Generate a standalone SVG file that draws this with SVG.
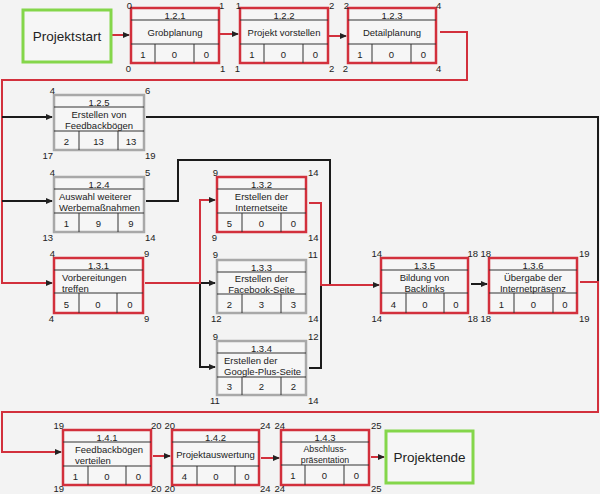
<svg xmlns="http://www.w3.org/2000/svg" width="600" height="494" viewBox="0 0 600 494">
<defs>
<marker id="ah" markerUnits="userSpaceOnUse" markerWidth="7" markerHeight="6" refX="6" refY="3" orient="auto">
<path d="M0,0 L7,3 L0,6 z" fill="#222"/>
</marker>
<style>
text{font-family:"Liberation Sans",Arial,sans-serif;fill:#222;}
.t{font-size:9.5px;}
.c{text-anchor:middle;}
.e{text-anchor:end;}
.n{font-size:9.5px;}
.big{font-size:13.5px;text-anchor:middle;}
.box{fill:#f6f6f6;stroke-width:2.5;}
.red{stroke:#d2303c;}
.grey{stroke:#a8a8a8;}
.in{stroke:#333;stroke-width:1;fill:none;}
.green{fill:#f6f6f6;stroke:#84d64a;stroke-width:3;}
.cr{fill:none;stroke:#d2303c;stroke-width:2;}
.cb{fill:none;stroke:#1a1a1a;stroke-width:2;}
</style>
</defs>
<rect x="0" y="0" width="600" height="494" fill="#f3f3f3"/>

<g id="connectors">
<path class="cr" d="M111,35 H129" marker-end="url(#ah)"/>
<path class="cr" d="M220,34 H238" marker-end="url(#ah)"/>
<path class="cr" d="M329,36 H346" marker-end="url(#ah)"/>
<path class="cr" d="M440,32 H467 V80 H2 V283 H52" marker-end="url(#ah)"/>
<path class="cb" d="M2,117 H52" marker-end="url(#ah)"/>
<path class="cb" d="M2,201 H52" marker-end="url(#ah)"/>
<path class="cb" d="M146,117 H598 V282"/>
<path class="cb" d="M146,201 H178 V160 H330 V285"/>
<path class="cb" d="M200,283 H215" marker-end="url(#ah)"/>
<path class="cb" d="M200,283 V367 H215" marker-end="url(#ah)"/>
<path class="cb" d="M309,368 H321 V285"/>
<path class="cr" d="M145,283 H200"/>
<path class="cr" d="M200,284 V200 H215" marker-end="url(#ah)"/>
<path class="cr" d="M309,203 H321 V285 H379" marker-end="url(#ah)"/>
<path class="cb" d="M471,284 H487" marker-end="url(#ah)"/>
<path class="cr" d="M580,282 H598 V412 H2 V452 H61" marker-end="url(#ah)"/>
<path class="cr" d="M153,456 H170" marker-end="url(#ah)"/>
<path class="cr" d="M261,458 H279" marker-end="url(#ah)"/>
<path class="cr" d="M371,457 H384" marker-end="url(#ah)"/>
</g>

<g id="start">
<rect class="green" x="23" y="10" width="88" height="52"/>
<text class="big" x="67" y="41">Projektstart</text>
</g>

<g id="n121">
<rect class="box red" x="131" y="8" width="88" height="55"/>
<path class="in" d="M131,20 H219 M131,44 H219 M155,44 V63 M194,44 V63"/>
<text class="t c" x="175" y="18.5">1.2.1</text>
<text class="t c" x="175" y="36">Grobplanung</text>
<text class="n c" x="143" y="57.5">1</text><text class="n c" x="174.5" y="57.5">0</text><text class="n c" x="206.5" y="57.5">0</text>
<text class="n e" x="132" y="8.5">0</text><text class="n" x="219" y="8.5">1</text>
<text class="n e" x="131" y="72">0</text><text class="n" x="220" y="72">1</text>
</g>

<g id="n122">
<rect class="box red" x="240" y="8" width="88" height="55"/>
<path class="in" d="M240,20 H328 M240,44 H328 M264,44 V63 M303,44 V63"/>
<text class="t c" x="284" y="18.5">1.2.2</text>
<text class="t c" x="284" y="36">Projekt vorstellen</text>
<text class="n c" x="252" y="57.5">1</text><text class="n c" x="283.5" y="57.5">0</text><text class="n c" x="315.5" y="57.5">0</text>
<text class="n e" x="241" y="8.5">1</text><text class="n" x="329" y="8.5">2</text>
<text class="n e" x="240" y="72">1</text><text class="n" x="329" y="72">2</text>
</g>

<g id="n123">
<rect class="box red" x="348" y="8" width="88" height="55"/>
<path class="in" d="M348,20 H436 M348,44 H436 M372,44 V63 M411,44 V63"/>
<text class="t c" x="392" y="18.5">1.2.3</text>
<text class="t c" x="392" y="36">Detailplanung</text>
<text class="n c" x="360" y="57.5">1</text><text class="n c" x="391.5" y="57.5">0</text><text class="n c" x="423.5" y="57.5">0</text>
<text class="n e" x="349" y="8.5">2</text><text class="n" x="436" y="8.5">4</text>
<text class="n e" x="348" y="72">2</text><text class="n" x="436" y="72">4</text>
</g>

<g id="n125">
<rect class="box grey" x="54" y="95" width="90" height="55"/>
<path class="in" d="M54,107 H144 M54,131 H144 M79,131 V150 M118,131 V150"/>
<text class="t c" x="99" y="105.5">1.2.5</text>
<text class="t c" x="99" y="118">Erstellen von</text>
<text class="t c" x="99" y="129">Feedbackbögen</text>
<text class="n c" x="66.5" y="144.5">2</text><text class="n c" x="98.5" y="144.5">13</text><text class="n c" x="131" y="144.5">13</text>
<text class="n e" x="55" y="94">4</text><text class="n" x="145" y="94">6</text>
<text class="n e" x="53" y="159">17</text><text class="n" x="145" y="159">19</text>
</g>

<g id="n124">
<rect class="box grey" x="54" y="177" width="90" height="55"/>
<path class="in" d="M54,189 H144 M54,213 H144 M79,213 V232 M118,213 V232"/>
<text class="t c" x="99" y="187.5">1.2.4</text>
<text class="t" x="59" y="200">Auswahl weiterer</text>
<text class="t" x="59" y="211">Werbemaßnahmen</text>
<text class="n c" x="66.5" y="226.5">1</text><text class="n c" x="98.5" y="226.5">9</text><text class="n c" x="131" y="226.5">9</text>
<text class="n e" x="55" y="176">4</text><text class="n" x="145" y="176">5</text>
<text class="n e" x="53" y="241">13</text><text class="n" x="145" y="241">14</text>
</g>

<g id="n131">
<rect class="box red" x="54" y="258" width="89" height="55"/>
<path class="in" d="M54,270 H143 M54,293 H143 M79,293 V313 M117,293 V313"/>
<text class="t c" x="98.5" y="268.5">1.3.1</text>
<text class="t" x="62" y="281">Vorbereitungen</text>
<text class="t" x="62" y="292">treffen</text>
<text class="n c" x="66.5" y="307.5">5</text><text class="n c" x="98" y="307.5">0</text><text class="n c" x="130" y="307.5">0</text>
<text class="n e" x="55" y="257">4</text><text class="n" x="144" y="257">9</text>
<text class="n e" x="54" y="322">4</text><text class="n" x="144" y="322">9</text>
</g>

<g id="n132">
<rect class="box red" x="217" y="177" width="89" height="55"/>
<path class="in" d="M217,189 H306 M217,213 H306 M242,213 V232 M281,213 V232"/>
<text class="t c" x="261.5" y="187.5">1.3.2</text>
<text class="t c" x="261.5" y="200">Erstellen der</text>
<text class="t c" x="261.5" y="211">Internetseite</text>
<text class="n c" x="229.5" y="226.5">5</text><text class="n c" x="261.5" y="226.5">0</text><text class="n c" x="293.5" y="226.5">0</text>
<text class="n e" x="218" y="176">9</text><text class="n" x="308" y="176">14</text>
<text class="n e" x="217" y="241">9</text><text class="n" x="308" y="241">14</text>
</g>

<g id="n133">
<rect class="box grey" x="217" y="260" width="89" height="53"/>
<path class="in" d="M217,272 H306 M217,294 H306 M242,294 V313 M281,294 V313"/>
<text class="t c" x="261.5" y="270.5">1.3.3</text>
<text class="t c" x="261.5" y="282">Erstellen der</text>
<text class="t c" x="261.5" y="292.5">Facebook-Seite</text>
<text class="n c" x="229.5" y="307.5">2</text><text class="n c" x="261.5" y="307.5">3</text><text class="n c" x="293.5" y="307.5">3</text>
<text class="n e" x="218" y="258">9</text><text class="n" x="308" y="258">11</text>
<text class="n" x="211" y="322">12</text><text class="n" x="308" y="322">14</text>
</g>

<g id="n134">
<rect class="box grey" x="217" y="341" width="89" height="54"/>
<path class="in" d="M217,353 H306 M217,377 H306 M242,377 V395 M281,377 V395"/>
<text class="t c" x="261.5" y="351.5">1.3.4</text>
<text class="t" x="224" y="364">Erstellen der</text>
<text class="t" x="224" y="375">Google-Plus-Seite</text>
<text class="n c" x="229.5" y="389.5">3</text><text class="n c" x="261.5" y="389.5">2</text><text class="n c" x="293.5" y="389.5">2</text>
<text class="n e" x="218" y="340">9</text><text class="n" x="308" y="340">12</text>
<text class="n" x="210" y="404">11</text><text class="n" x="308" y="404">14</text>
</g>

<g id="n135">
<rect class="box red" x="381" y="258" width="87" height="55"/>
<path class="in" d="M381,270 H468 M381,293 H468 M406,293 V313 M444,293 V313"/>
<text class="t c" x="424.5" y="268.5">1.3.5</text>
<text class="t c" x="424.5" y="281">Bildung von</text>
<text class="t c" x="424.5" y="292">Backlinks</text>
<text class="n c" x="393.5" y="307.5">4</text><text class="n c" x="425" y="307.5">0</text><text class="n c" x="456" y="307.5">0</text>
<text class="n e" x="382" y="257">14</text><text class="n" x="467.5" y="257">18</text>
<text class="n e" x="382" y="322">14</text><text class="n" x="467.5" y="322">18</text>
</g>

<g id="n136">
<rect class="box red" x="489" y="258" width="88" height="55"/>
<path class="in" d="M489,270 H577 M489,293 H577 M514,293 V313 M553,293 V313"/>
<text class="t c" x="533" y="268.5">1.3.6</text>
<text class="t c" x="533" y="281">Übergabe der</text>
<text class="t c" x="533" y="292">Internetpräsenz</text>
<text class="n c" x="501.5" y="307.5">1</text><text class="n c" x="533.5" y="307.5">0</text><text class="n c" x="565" y="307.5">0</text>
<text class="n e" x="491" y="257">18</text><text class="n" x="579" y="257">19</text>
<text class="n e" x="491" y="322">18</text><text class="n" x="579" y="322">19</text>
</g>

<g id="n141">
<rect class="box red" x="63" y="430" width="88" height="55"/>
<path class="in" d="M63,442 H151 M63,466 H151 M88,466 V485 M126,466 V485"/>
<text class="t c" x="107" y="440.5">1.4.1</text>
<text class="t" x="75" y="453">Feedbackbögen</text>
<text class="t" x="75" y="464">verteilen</text>
<text class="n c" x="75.5" y="479.5">1</text><text class="n c" x="107" y="479.5">0</text><text class="n c" x="138.5" y="479.5">0</text>
<text class="n e" x="64" y="429">19</text><text class="n" x="151" y="429">20</text>
<text class="n e" x="64" y="492">19</text><text class="n" x="151" y="492">20</text>
</g>

<g id="n142">
<rect class="box red" x="172" y="430" width="87" height="55"/>
<path class="in" d="M172,442 H259 M172,466 H259 M197,466 V485 M235,466 V485"/>
<text class="t c" x="215.5" y="440.5">1.4.2</text>
<text class="t c" x="215.5" y="458">Projektauswertung</text>
<text class="n c" x="184.5" y="479.5">4</text><text class="n c" x="216" y="479.5">0</text><text class="n c" x="247" y="479.5">0</text>
<text class="n e" x="175" y="429">20</text><text class="n" x="260" y="429">24</text>
<text class="n e" x="175" y="492">20</text><text class="n" x="260" y="492">24</text>
</g>

<g id="n143">
<rect class="box red" x="281" y="430" width="88" height="55"/>
<path class="in" d="M281,442 H369 M281,465 H369 M305,465 V485 M344,465 V485"/>
<text class="t c" x="325" y="440.5">1.4.3</text>
<text class="t c" x="325" y="452" style="font-size:8.8px">Abschluss-</text>
<text class="t c" x="325" y="463" style="font-size:8.8px">präsentation</text>
<text class="n c" x="293" y="479">1</text><text class="n c" x="324.5" y="479">0</text><text class="n c" x="356.5" y="479">0</text>
<text class="n e" x="285" y="429">24</text><text class="n" x="371" y="429">25</text>
<text class="n e" x="285" y="492">24</text><text class="n" x="371" y="492">25</text>
</g>

<g id="end">
<rect class="green" x="386" y="431" width="87" height="52"/>
<text class="big" x="429.5" y="462">Projektende</text>
</g>
</svg>
